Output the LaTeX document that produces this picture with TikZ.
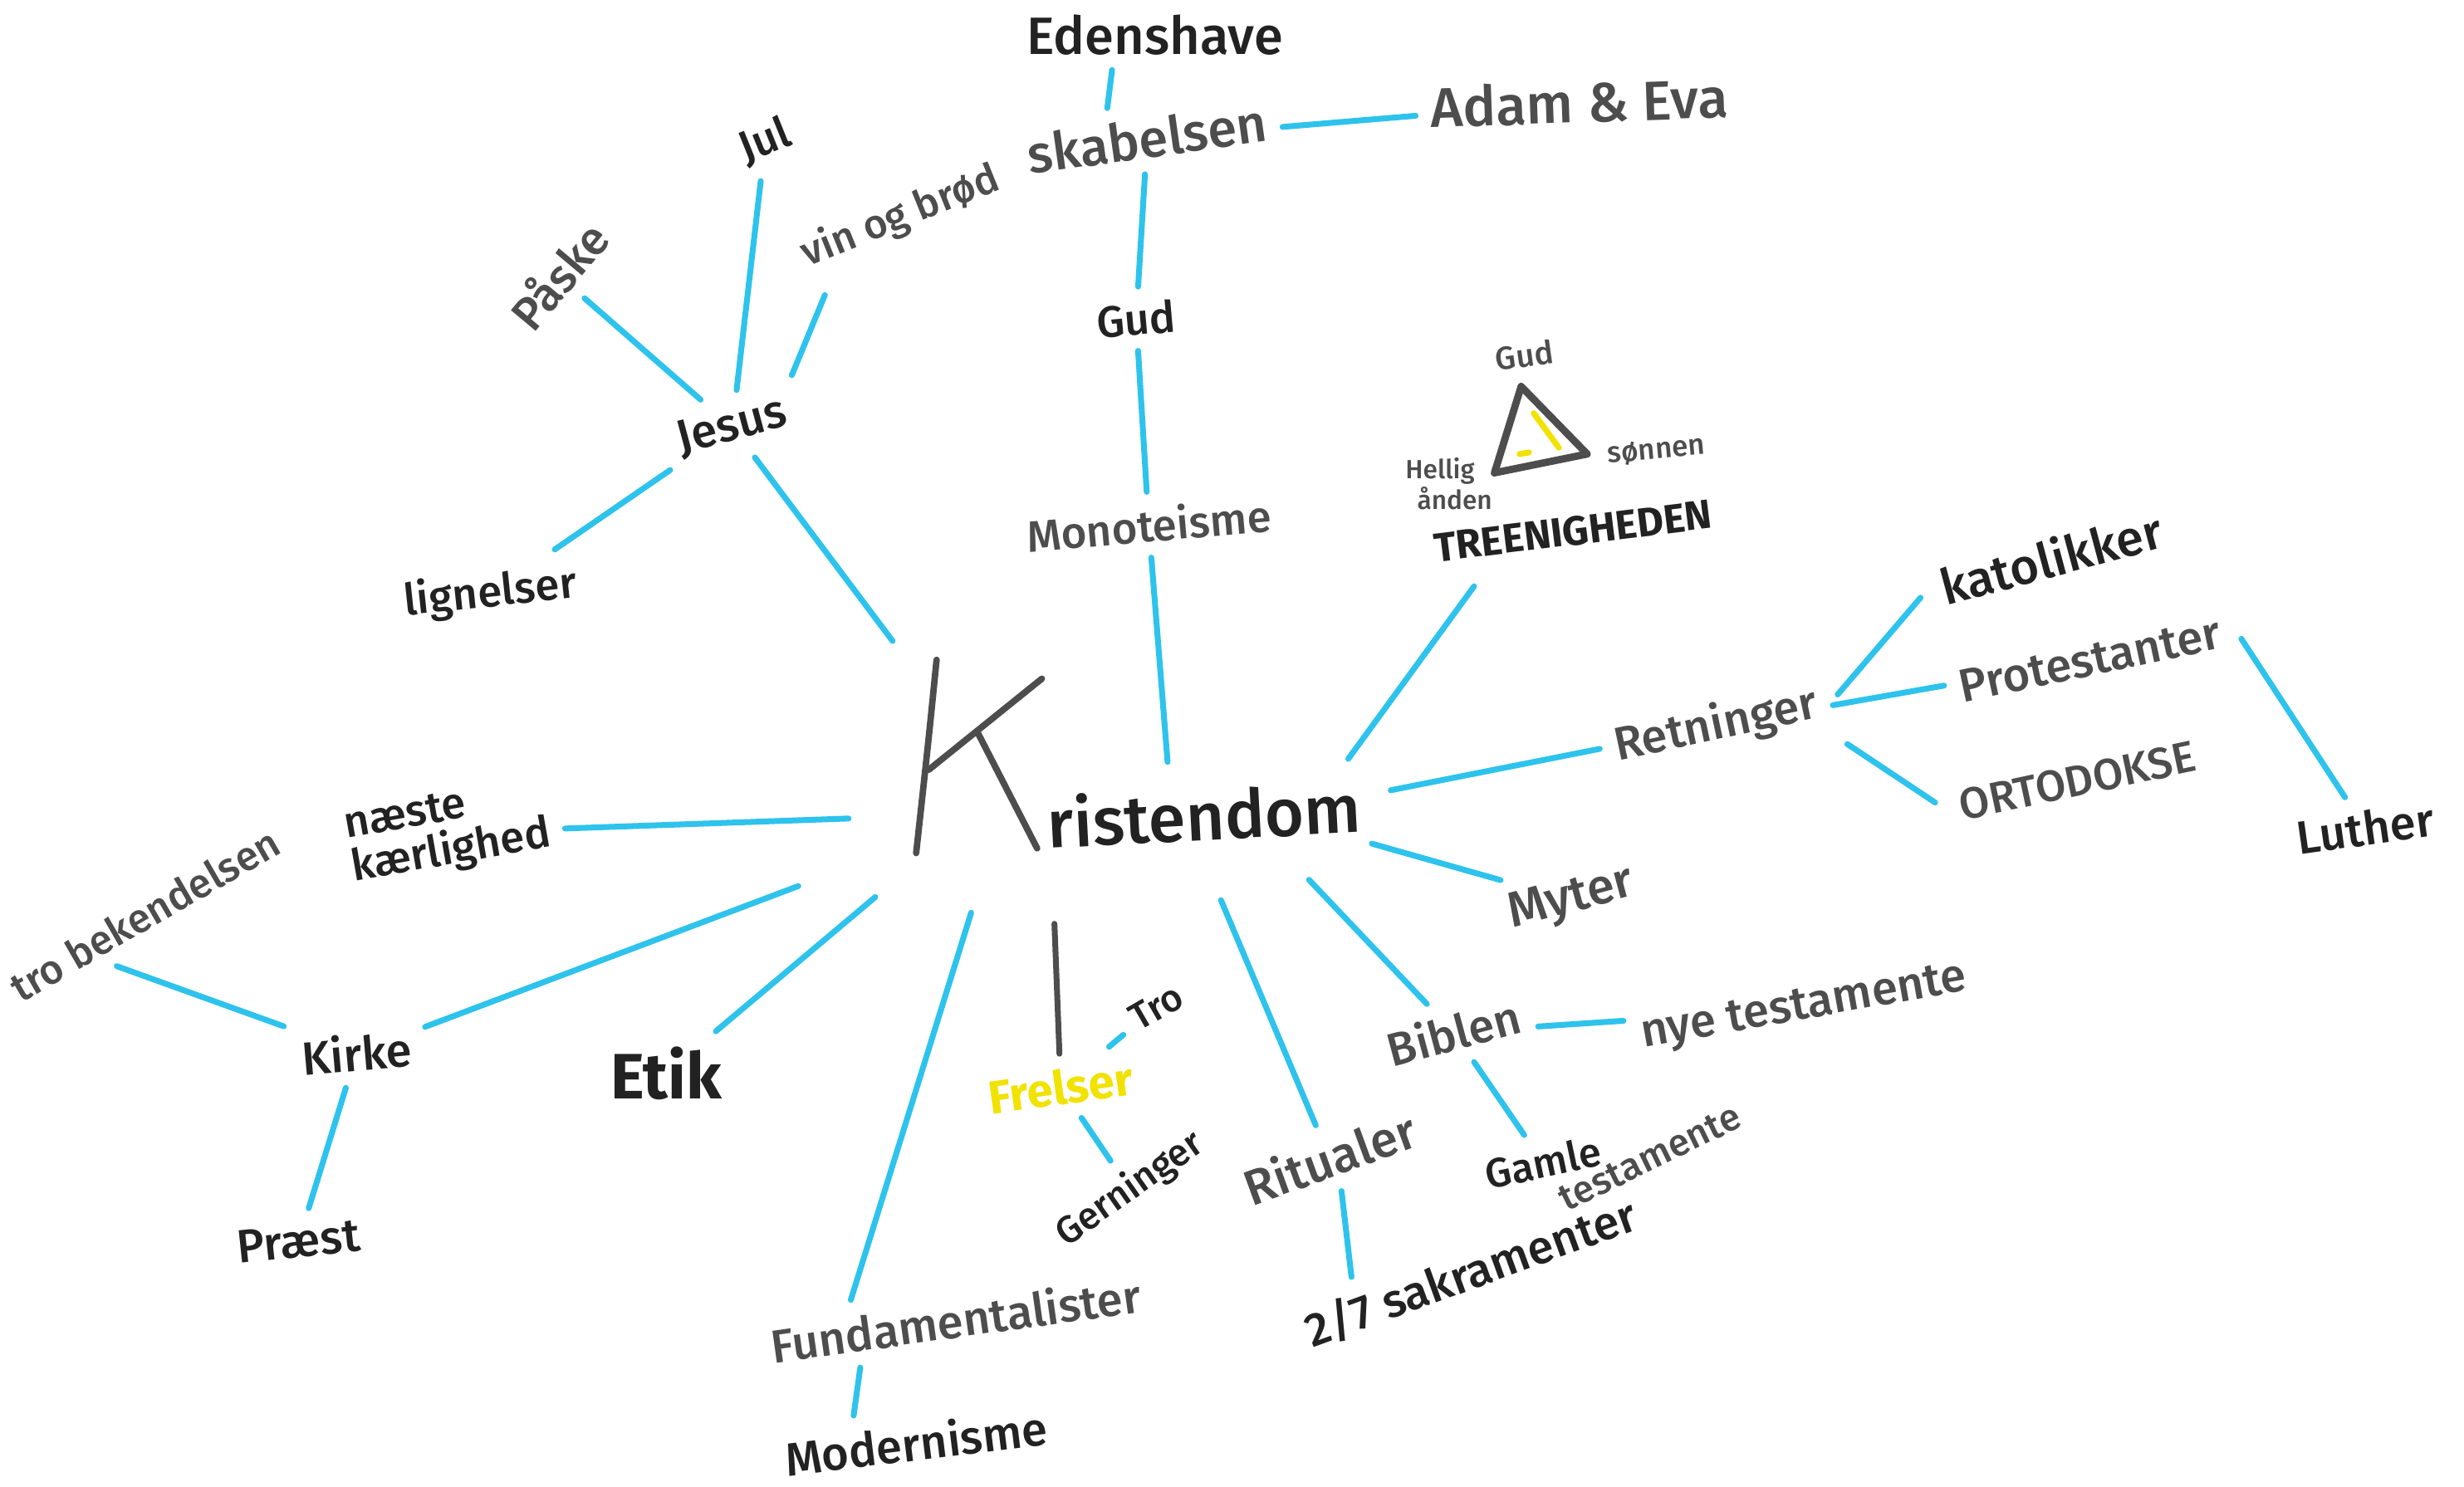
\documentclass[tikz,border=0pt]{standalone}
\usepackage{fontspec}
\setmainfont{Fira Sans}[UprightFont=* Medium,BoldFont=* Bold]
\usetikzlibrary{calc}
\definecolor{ink}{HTML}{222222}
\definecolor{pencil}{HTML}{4D4D4D}
\definecolor{marker}{HTML}{2EC3EC}
\definecolor{gold}{HTML}{F2E200}
\tikzset{
  word/.style={text=ink,inner sep=5pt,font=\fontsize{#1}{#1}\selectfont},
  word/.default=16,
  soft/.style={word=#1,text=pencil},
  soft/.default=16,
  link/.style={draw=marker,line width=2pt,line cap=round},
}
\begin{document}
\begin{tikzpicture}[x=0.018922cm,y=-0.018922cm,line join=round,line cap=round]
\fill[white] (0,0) rectangle (1568,946);
\useasboundingbox (0,0) rectangle (1568,946);

% the big K
\draw[pencil,line width=2.2pt] (596,420) .. controls (591,470) .. (583,543);
\draw[pencil,line width=2.2pt] (663,432) -- (591,490);
\draw[pencil,line width=2.2pt] (622,466) -- (660,540);
\node[word=23,anchor=base west,rotate=3,inner sep=0pt] (krist) at (667,540) {ristendom};

\coordinate (k-jesus) at (568,408);
\coordinate (k-mono) at (743,485);
\coordinate (k-tre) at (858,483);
\coordinate (k-ret) at (885,503);
\coordinate (k-myt) at (873,537);
\coordinate (k-bib) at (833,560);
\coordinate (k-rit) at (777,573);
\coordinate (k-frel) at (671,588);
\coordinate (k-fund) at (618,581);
\coordinate (k-etik) at (557,571);
\coordinate (k-kirke) at (508,564);
\coordinate (k-naeste) at (540,521);

\node[word=18] (eden) at (735,22) {Edenshave};
\node[soft=18,rotate=8] (skab) at (730,88) {skabelsen};
\node[soft=19,rotate=2] (adam) at (1005,65) {Adam \& Eva};
\node[word=15,rotate=5] (gud) at (723,203) {Gud};
\node[soft=15,rotate=5] (mono) at (731,334) {Monoteisme};
\node[word=16,rotate=15] (jesus) at (466,272) {Jesus};
\node[soft=16,rotate=50] (paske) at (355,175) {Påske};
\node[word=15,rotate=22] (jul) at (487,90) {Jul};
\node[soft=14,rotate=22] (vin) at (573,138) {vin og brød};
\node[word=15,rotate=6] (lign) at (312,378) {lignelser};

\node[soft=11,rotate=8] (trigud) at (970,226) {Gud};
\draw[pencil,line width=2.5pt] (968,246) -- (1010,289) -- (951,301) -- cycle;
\draw[gold,line width=2pt] (976,263) -- (992,285) (967,289) -- (973,288);
\node[soft=10,rotate=5] (son) at (1054,287) {sønnen};
\node[soft=9,align=left,inner sep=1pt] (hellig) at (922,308) {Hellig\\\hspace{4pt}ånden};
\node[word=14,rotate=7] (treen) at (1001,338) {\bfseries TREENIGHEDEN};

\node[soft=16,rotate=12] (ret) at (1092,462) {Retninger};
\node[word=17,rotate=15] (kat) at (1305,355) {katolikker};
\node[soft=16,rotate=12] (prot) at (1330,420) {Protestanter};
\node[soft=15,rotate=12] (orto) at (1322,497) {ORTODOKSE};
\node[word=16,rotate=8] (luther) at (1505,527) {Luther};
\node[soft=17,rotate=15] (myter) at (1000,573) {Myter};
\node[soft=16,rotate=15] (bib) at (925,657) {Biblen};
\node[soft=16,rotate=10] (nye) at (1148,642) {nye testamente};
\node[word=14,rotate=12] (gamle) at (982,740) {Gamle};
\node[soft=13,rotate=26] (gtest) at (1050,737) {testamente};
\node[soft=17,rotate=20] (rit) at (846,737) {Ritualer};
\node[word=16,rotate=20] (sakr) at (936,810) {2/7 sakramenter};

\node[word=16,rotate=8,text=gold] (frelser) at (675,692) {\bfseries Frelser};
\node[word=13,rotate=30] (tro) at (736,641) {Tro};
\node[word=13,rotate=35] (gern) at (719,757) {Gerninger};
\node[soft=16,rotate=8] (fund) at (608,840) {Fundamentalister};
\node[word=16,rotate=7] (mod) at (583,918) {Modernisme};
\node[word=22] (etik) at (424,683) {\bfseries Etik};
\node[word=16,rotate=5] (kirke) at (227,670) {Kirke};
\node[word=16,rotate=6] (praest) at (190,790) {Præst};
\node[soft=14,rotate=30] (tros) at (92,582) {tro bekendelsen};
\node[word=15,rotate=10,align=left] (naeste) at (285,530) {næste\\kærlighed};

\draw[link] (k-jesus) -- (jesus);
\draw[link] (jesus) -- (paske);
\draw[link] (jesus) -- (jul);
\draw[link,shorten <=4pt] ($(vin.south west)!.12!(vin.south east)$) -- (jesus.north east);
\draw[link] (jesus) -- (lign);
\draw[link] ($(eden.south west)!.35!(eden.south east)$) -- ($(skab.north west)!.37!(skab.north east)$);
\draw[link] (skab) -- (adam);
\draw[link] (skab) -- (gud);
\draw[link] (gud) -- (mono);
\draw[link] (k-mono) -- (mono);
\draw[link,shorten >=6pt] (k-tre) -- ($(treen.south west)!.2!(treen.south east)$);
\draw[link] (k-ret) -- (ret);
\draw[link,shorten <=3pt,shorten >=3pt] (ret.east) -- (kat.west);
\draw[link] (ret) -- (prot);
\draw[link,shorten <=3pt,shorten >=4pt] (ret.south east) -- (orto.west);
\draw[link,shorten <=4pt] (prot.east) -- (luther);
\draw[link] (k-myt) -- (myter);
\draw[link] (k-bib) -- (bib);
\draw[link] (bib) -- (nye);
\draw[link] (bib) -- (gamle);
\draw[link] (k-rit) -- (rit);
\draw[link] (rit.south) -- ($(sakr.north west)!.2!(sakr.north east)$);
\draw[pencil,line width=2pt] (k-frel) -- (frelser);
\draw[link] (frelser) -- (tro);
\draw[link] (frelser) -- (gern);
\draw[link] (k-fund) -- ($(fund.north west)!.25!(fund.north east)$);
\draw[link] ($(fund.south west)!.25!(fund.south east)$) -- ($(mod.north west)!.3!(mod.north east)$);
\draw[link] (k-etik) -- (etik);
\draw[link] (k-kirke) -- (kirke);
\draw[link] (kirke) -- ($(tros.south west)!.35!(tros.south east)$);
\draw[link] (kirke) -- (praest);
\draw[link] (k-naeste) -- (naeste);
\end{tikzpicture}
\end{document}
